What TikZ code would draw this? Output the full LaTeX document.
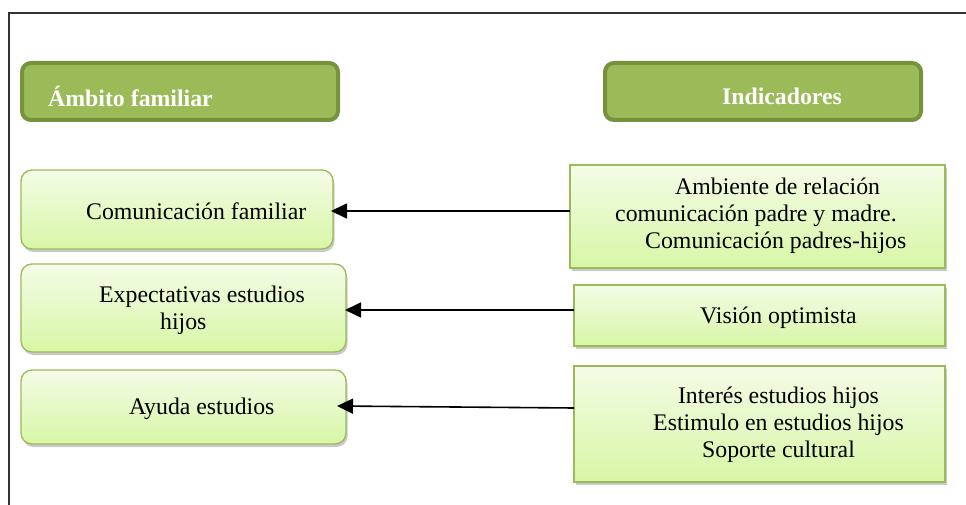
\documentclass[tikz,border=0pt]{standalone}
\usepackage{fontspec}
\setmainfont{Liberation Serif}
\usetikzlibrary{shadows,arrows.meta}
\definecolor{hdrfill}{HTML}{9BBB59}
\definecolor{hdrline}{HTML}{76923C}
\definecolor{boxtop}{HTML}{F3FCE6}
\definecolor{boxbot}{HTML}{D8F6A6}
\definecolor{boxline}{HTML}{9BBB59}
\tikzset{
  hdr/.style={draw=hdrline, fill=hdrfill, line width=4pt, rounded corners=9pt, outer sep=0pt, inner sep=0pt},
  hdrtext/.style={text=white, font=\fontsize{23.8}{27}\selectfont\bfseries, inner sep=0pt},
  greenbox/.style={draw=boxline, line width=1.3pt, top color=boxtop, bottom color=boxbot, outer sep=0pt, inner sep=0pt,
     drop shadow={shadow xshift=1.5pt, shadow yshift=-3pt, opacity=0.35, fill=black!60}},
  lbox/.style={greenbox, rounded corners=11pt},
  rbox/.style={greenbox},
  txt/.style={font=\fontsize{23.8}{27}\selectfont, inner sep=0pt, align=center},
  arr/.style={line width=1.6pt, -{Triangle[length=16pt, width=15pt]}},
  frame/.style={line width=1.2pt, draw=black!80}
}
\begin{document}
\begin{tikzpicture}[x=1pt,y=-1pt]
\useasboundingbox (0,0) rectangle (966,505);
\fill[white] (0,0) rectangle (966,505);
\draw[frame] (9,505) -- (9,13) -- (966,13);
% headers
\node[hdr, minimum width=316, minimum height=57] (hamb) at (180,91.5) {};
\node[hdrtext, anchor=west] (thamb) at (48,96) {Ámbito familiar};
\node[hdr, minimum width=316, minimum height=57] (hind) at (763,91.5) {};
\node[hdrtext] (thind) at (782,96) {Indicadores};
% left boxes
\node[lbox, minimum width=312, minimum height=79] (com) at (177,209.5) {};
\node[txt, anchor=west] (tcom) at (86,211) {Comunicación familiar};
\node[lbox, minimum width=325, minimum height=88] (exp) at (183.5,308) {};
\node[txt, align=left, anchor=west] (texp) at (99,310.5) {Expectativas estudios\\\hspace*{61pt}hijos};
\node[lbox, minimum width=325, minimum height=74] (ayu) at (183.5,407) {};
\node[txt, anchor=west] (tayu) at (129,409) {Ayuda estudios};
% right boxes
\node[rbox, minimum width=375, minimum height=103] (amb) at (757.5,216.5) {};
\node[txt, align=left, anchor=west] (tamb) at (615,216) {\hspace*{60pt}Ambiente de relación\\comunicación padre y madre.\\\hspace*{30pt}Comunicación padres-hijos};
\node[rbox, minimum width=371, minimum height=61] (vis) at (759.5,315.5) {};
\node[txt, anchor=west] (tvis) at (700,318) {Visión optimista};
\node[rbox, minimum width=371, minimum height=116] (int) at (759.5,424) {};
\node[txt] (tint) at (778.5,424.5) {Interés estudios hijos\\Estimulo en estudios hijos\\Soporte cultural};
% connectors
\draw[arr] ([yshift=-1.5pt]com.east -| amb.west) -- ([yshift=-1.5pt,xshift=-2pt]com.east);
\draw[arr] ([yshift=-2pt]exp.east -| vis.west) -- ([yshift=-2pt,xshift=-1pt]exp.east);
\draw[arr] ([yshift=-1pt]ayu.east -| int.west) -- ([yshift=1pt,xshift=-9pt]ayu.east);
\end{tikzpicture}
\end{document}
